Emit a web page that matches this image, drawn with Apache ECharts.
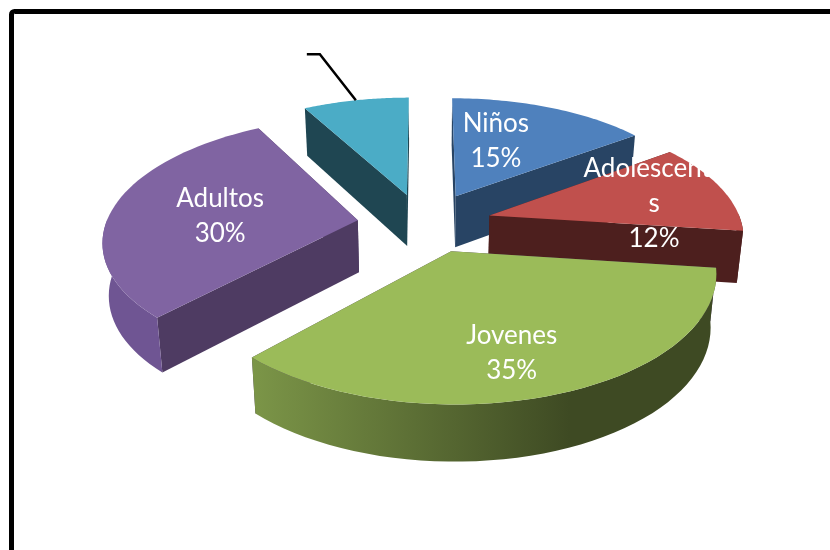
<!DOCTYPE html>
<html>
<head>
<meta charset="utf-8">
<style>html,body{margin:0;padding:0;background:#fff}#chart{width:830px;height:550px}</style>
<script src="https://cdn.jsdelivr.net/npm/echarts@6/dist/echarts.min.js"></script>
</head>
<body>
<div id="chart"></div>
<script>
// Age groups, share of the total in percent
const categories = ['Niños', 'Adolescente\ns', 'Jovenes', 'Adultos', ''];
const shares = [15, 12, 35, 30, 8];
const shareLabels = ['15%', '12%', '35%', '30%', ''];

// Face colours per slice
const topColors = ['#4f81bd', '#c0504d', '#9bbb59', '#8064a2', '#4bacc6'];
const cutColors = ['#284464', '#4d1f1e', '#4e3b62', '#4e3b62', '#1f4652'];
const rimLight = ['#3f6797', '#9a403e', '#7c9648', '#6f5593', '#3c8a9e'];
const rimDark = ['#284464', '#4d1f1e', '#3e4a23', '#5f4a7c', '#1f4652'];

// Pie projection: a tilted disc seen in perspective
const CX = 430, CY = 222, RX = 252, RY = 120, PERSP = 0.152;
const DEPTH = 52, DEPTH_PERSP = 0.08, SHRINK = 0.02, EXPLODE = 0.25, STEPS = 48;
const drawOrder = [1, 3, 4, 2, 0];     // back-to-front rank per slice
const nudgeX = [-2, -1, -1, -10, -8];  // fine placement per slice
const nudgeY = [0, 1, 0, 2, 1];
const labelShift = [[-10, -43], [47, -50], [11, 1], [-15, -32], [0, 0]];

function project(x, y, bottom, i) {
  const k = 1 / (1 + PERSP * y);
  const kx = bottom ? k * (1 - SHRINK) : k;
  return [
    CX + RX * x * kx + nudgeX[i],
    CY - RY * y * k + (bottom ? DEPTH * (1 - DEPTH_PERSP * y) : 0) + nudgeY[i]
  ];
}

const total = shares.reduce((a, b) => a + b, 0);
function sliceAngles(i) {
  const before = shares.slice(0, i).reduce((a, b) => a + b, 0);
  return [before / total * 2 * Math.PI, (before + shares[i]) / total * 2 * Math.PI];
}

function renderSlice(params, api) {
  const i = api.value(1);
  const [a0, a1] = sliceAngles(i);
  const mid = (a0 + a1) / 2;
  const ox = EXPLODE * Math.sin(mid), oy = EXPLODE * Math.cos(mid);
  const at = (a, r, bottom) =>
    project(ox + r * Math.sin(a), oy + r * Math.cos(a), bottom, i);

  const top = [];
  const rimTop = [], rimBot = [];
  for (let s = 0; s <= STEPS; s++) {
    const a = a0 + (a1 - a0) * s / STEPS;
    top.push(at(a, 1, false));
    // The outer wall only shows on the side facing the viewer
    if (Math.cos(a) < 0.02) {
      rimTop.push(at(a, 1, false));
      rimBot.push(at(a, 1, true));
    }
  }
  const apexTop = at(0, 0, false), apexBot = at(0, 0, true);
  const z = drawOrder[i] * 5;
  const poly = (points, fill, dz) => ({
    type: 'polygon', z2: z + dz, shape: { points }, style: { fill, stroke: null }
  });
  const rimFill = {
    type: 'linear', global: true, x: 250, y: 0, x2: 570, y2: 0,
    colorStops: [{ offset: 0, color: rimLight[i] }, { offset: 1, color: rimDark[i] }]
  };
  const children = [
    poly([apexTop, top[0], at(a0, 1, true), apexBot], cutColors[i], 0),
    poly([apexTop, top[STEPS], at(a1, 1, true), apexBot], cutColors[i], 0),
    poly([apexTop].concat(top), topColors[i], 2)
  ];
  if (rimTop.length > 1) {
    children.push(poly(rimTop.concat(rimBot.slice().reverse()), rimFill, 1));
  }
  if (categories[i]) {
    const c = at(mid, 0.5, false);
    children.push({
      type: 'text', z2: 100,
      style: {
        x: c[0] + labelShift[i][0], y: c[1] + labelShift[i][1],
        text: categories[i] + '\n' + shareLabels[i],
        fill: '#fff', font: '26px Lato', lineHeight: 35,
        align: 'center', verticalAlign: 'top'
      }
    });
  } else {
    // Leader line rising from the rim of the unnamed slice
    const s = at(mid, 1, false);
    children.push({
      type: 'polyline', z2: 50,
      shape: { points: [s, [s[0] - 36, s[1] - 46], [s[0] - 49, s[1] - 46]] },
      style: { stroke: '#000', lineWidth: 2.5, fill: null }
    });
  }
  return { type: 'group', children };
}

const chart = echarts.init(document.getElementById('chart'));
chart.setOption({
  animation: false,
  backgroundColor: '#fff',
  graphic: [{
    type: 'rect', silent: true, z: 0,
    shape: { x: 11.5, y: 11.5, width: 1200, height: 1200, r: 3 },
    style: { fill: null, stroke: '#000', lineWidth: 5 }
  }],
  series: [{
    type: 'custom',
    coordinateSystem: 'none',
    renderItem: renderSlice,
    data: shares.map((v, i) => [v, i])
  }]
});
</script>
</body>
</html>
